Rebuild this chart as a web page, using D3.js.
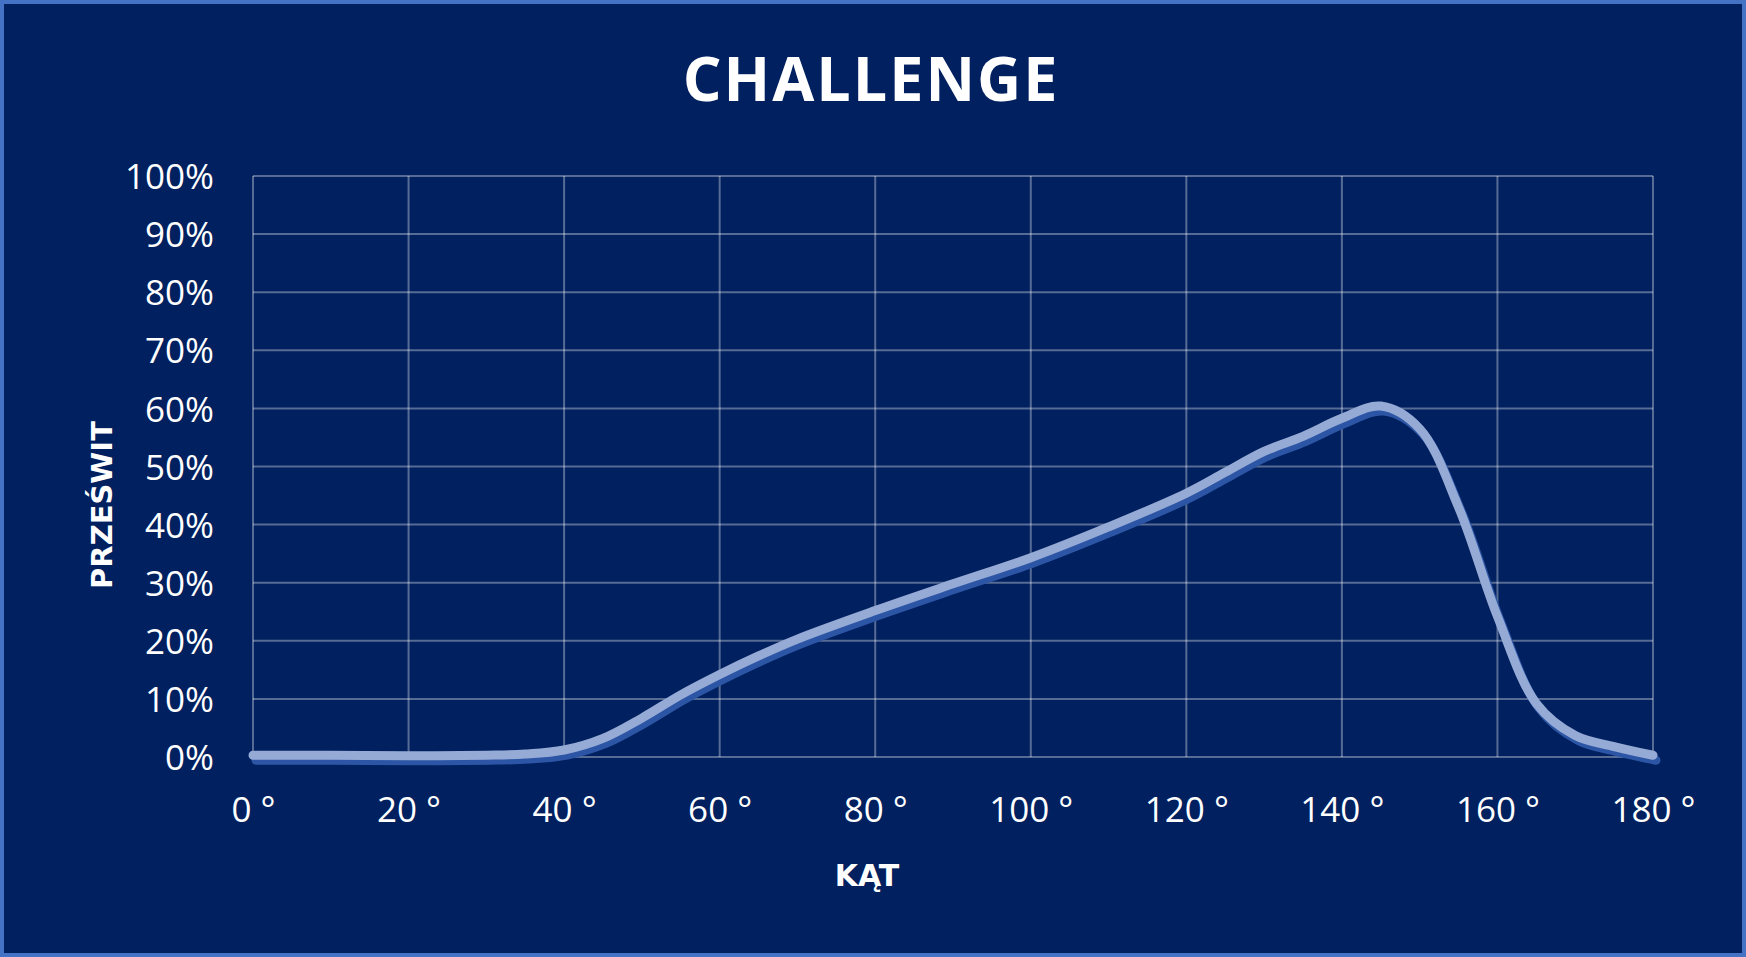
<!DOCTYPE html>
<html>
<head>
<meta charset="utf-8">
<script src="https://cdn.jsdelivr.net/npm/d3@7"></script>
<style>
  html, body { margin: 0; padding: 0; background: #00205f; }
  svg { display: block; }
</style>
</head>
<body>
<script>
// kąt (deg) vs prześwit (%)
const angles = [0, 10, 20, 30, 35, 40, 45, 50, 55, 60, 65, 70, 80, 90, 100, 110, 120, 125, 130, 135, 140, 145, 150, 155, 160, 165, 170, 175, 180];
const clearance = [0.3, 0.3, 0.2, 0.3, 0.5, 1.2, 3.2, 6.7, 10.7, 14.2, 17.4, 20.3, 25.2, 29.8, 34.3, 39.6, 45.4, 49.0, 52.6, 55.2, 58.3, 60.4, 56.5, 43.0, 24.2, 9.2, 3.7, 1.8, 0.3];
const xTicks = [0, 20, 40, 60, 80, 100, 120, 140, 160, 180];
const yTicks = [0, 10, 20, 30, 40, 50, 60, 70, 80, 90, 100];

const W = 1746, H = 957;
const margin = { top: 176, right: 93, bottom: 200, left: 253 };

const svg = d3.select('body')
  .append('svg')
  .attr('width', W)
  .attr('height', H);

// background + border
svg.append('rect')
  .attr('x', 2).attr('y', 2)
  .attr('width', W - 4).attr('height', H - 4)
  .attr('fill', '#00205f')
  .attr('stroke', '#4472c4')
  .attr('stroke-width', 4);

const x = d3.scaleLinear().domain([0, 180]).range([margin.left, W - margin.right]);
const y = d3.scaleLinear().domain([0, 100]).range([H - margin.bottom, margin.top]);

// grid
const grid = svg.append('g').attr('stroke', 'rgba(255,255,255,0.34)').attr('stroke-width', 2);
grid.selectAll('.hl').data(yTicks).join('line')
  .attr('x1', x(0)).attr('x2', x(180))
  .attr('y1', d => y(d)).attr('y2', d => y(d));
grid.selectAll('.vl').data(xTicks).join('line')
  .attr('y1', y(0)).attr('y2', y(100))
  .attr('x1', d => x(d)).attr('x2', d => x(d));

// axes (labels only)
const yAxis = svg.append('g')
  .attr('transform', `translate(${margin.left - 39},0)`)
  .call(d3.axisLeft(y).tickValues(yTicks).tickSize(0).tickPadding(0).tickFormat(d => d + '%'));
const xAxis = svg.append('g')
  .attr('transform', `translate(0,${y(0)})`)
  .call(d3.axisBottom(x).tickValues(xTicks).tickSize(0).tickPadding(0).tickFormat(d => d + ' °'));

[yAxis, xAxis].forEach(a => {
  a.select('.domain').remove();
  a.selectAll('text')
    .attr('fill', '#ffffff')
    .attr('font-family', '"Open Sans", sans-serif')
    .attr('font-size', 35);
});
yAxis.selectAll('text').attr('dy', '0.36em').attr('x', 0);
xAxis.selectAll('text').attr('dy', null).attr('y', 65);

// series
const line = d3.line()
  .x((d, i) => x(angles[i]))
  .y(d => y(d))
  .curve(d3.curveCatmullRom.alpha(0.5));

svg.append('path')
  .datum(clearance)
  .attr('transform', 'translate(3,5)')
  .attr('fill', 'none')
  .attr('stroke', '#2c56a5')
  .attr('stroke-width', 9)
  .attr('stroke-linecap', 'round')
  .attr('d', line);

svg.append('path')
  .datum(clearance)
  .attr('fill', 'none')
  .attr('stroke', '#96aad6')
  .attr('stroke-width', 9)
  .attr('stroke-linecap', 'round')
  .attr('d', line);

// titles
svg.append('text')
  .attr('x', 871).attr('y', 101)
  .attr('text-anchor', 'middle')
  .attr('fill', '#ffffff')
  .attr('font-family', '"Open Sans", sans-serif')
  .attr('font-weight', 700)
  .attr('font-size', 61)
  .attr('letter-spacing', 2)
  .text('CHALLENGE');

svg.append('text')
  .attr('x', 867).attr('y', 886)
  .attr('text-anchor', 'middle')
  .attr('fill', '#ffffff')
  .attr('font-family', '"DejaVu Sans", sans-serif')
  .attr('font-weight', 700)
  .attr('font-size', 30)
  .text('KĄT');

svg.append('text')
  .attr('transform', 'translate(112,505) rotate(-90)')
  .attr('text-anchor', 'middle')
  .attr('fill', '#ffffff')
  .attr('font-family', '"DejaVu Sans", sans-serif')
  .attr('font-weight', 700)
  .attr('font-size', 29)
  .text('PRZEŚWIT');
</script>
</body>
</html>
